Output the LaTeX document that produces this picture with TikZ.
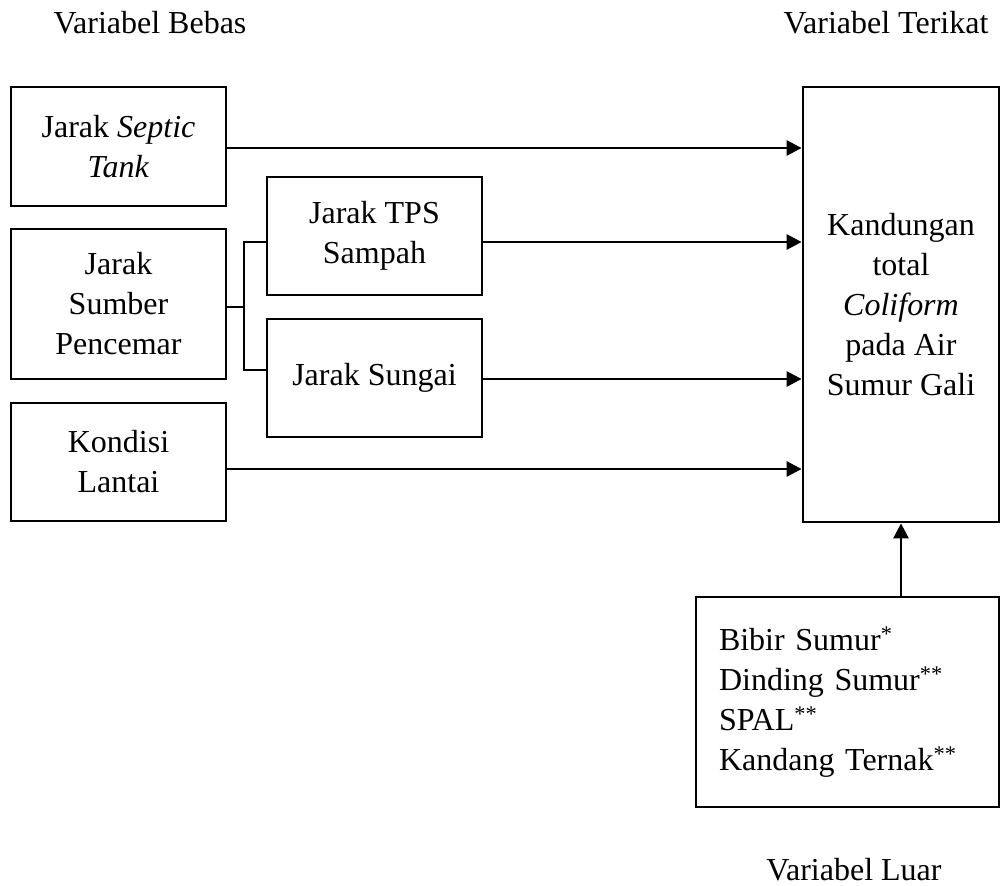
\documentclass[tikz,border=0pt]{standalone}
\usepackage{fontspec}
\setmainfont{Liberation Serif}
\usetikzlibrary{arrows.meta,calc}
\begin{document}
\begin{tikzpicture}[x=1pt,y=-1pt,
  every node/.style={font=\fontsize{32}{40}\selectfont},
  box/.style={draw,line width=2.8pt,rectangle,align=center,inner sep=0pt},
  link/.style={line width=2.8pt},
  arr/.style={line width=2.8pt,-{Triangle[length=15pt,width=15pt]}},
  lbl/.style={anchor=base,inner sep=0pt}]
\useasboundingbox (0,0) rectangle (1002,886);
% labels
\node[lbl] (lbebas) at (150,33) {Variabel Bebas};
\node[lbl] (lterikat) at (886,33) {Variabel Terikat};
\node[lbl] (lluar) at (854,880) {Variabel Luar};
% left column
\node[box,minimum width=215pt,minimum height=119pt] (septic) at (118.5,146.5) {Jarak \textit{Septic}\\\textit{Tank}};
\node[box,minimum width=215pt,minimum height=150pt] (sumber) at (118.5,304) {Jarak\\Sumber\\Pencemar};
\node[box,minimum width=215pt,minimum height=118pt] (kondisi) at (118.5,462) {Kondisi\\Lantai};
% middle column
\node[box,minimum width=215pt,minimum height=118pt] (tps) at (374.5,236) {Jarak TPS\\Sampah};
\node[box,minimum width=215pt,minimum height=118pt] (sungai) at (374.5,378) {Jarak Sungai};
% dependent
\node[box,minimum width=196pt,minimum height=435pt] (kand) at (901,304.5) {Kandungan\\total\\\textit{Coliform}\\pada Air\\Sumur Gali};
% external
\node[draw,line width=2.8pt,rectangle,align=left,text width=257pt,inner xsep=23pt,inner ysep=0pt,minimum height=210pt] (bibir) at (847.5,702) {Bibir Sumur\textsuperscript{*}\\Dinding Sumur\textsuperscript{**}\\SPAL\textsuperscript{**}\\Kandang Ternak\textsuperscript{**}};
% branch connector
\coordinate (jn) at (244,307);
\draw[link] ($(sumber.east)+(0,3)$) -- (jn);
\draw[link] (tps.west |- 0,242) -- (244,242) -- (244,370) -- (sungai.west |- 0,370);
% arrows to dependent
\draw[arr] ($(septic.east)+(0,1.5)$) -- ($(septic.east -| kand.west)+(0,1.5)$);
\draw[arr] ($(tps.east)+(0,6)$) -- ($(tps.east -| kand.west)+(0,6)$);
\draw[arr] ($(sungai.east)+(0,1)$) -- ($(sungai.east -| kand.west)+(0,1)$);
\draw[arr] ($(kondisi.east)+(0,7)$) -- ($(kondisi.east -| kand.west)+(0,7)$);
\draw[arr] (bibir.north -| kand.south) -- (kand.south);
\end{tikzpicture}
\end{document}
